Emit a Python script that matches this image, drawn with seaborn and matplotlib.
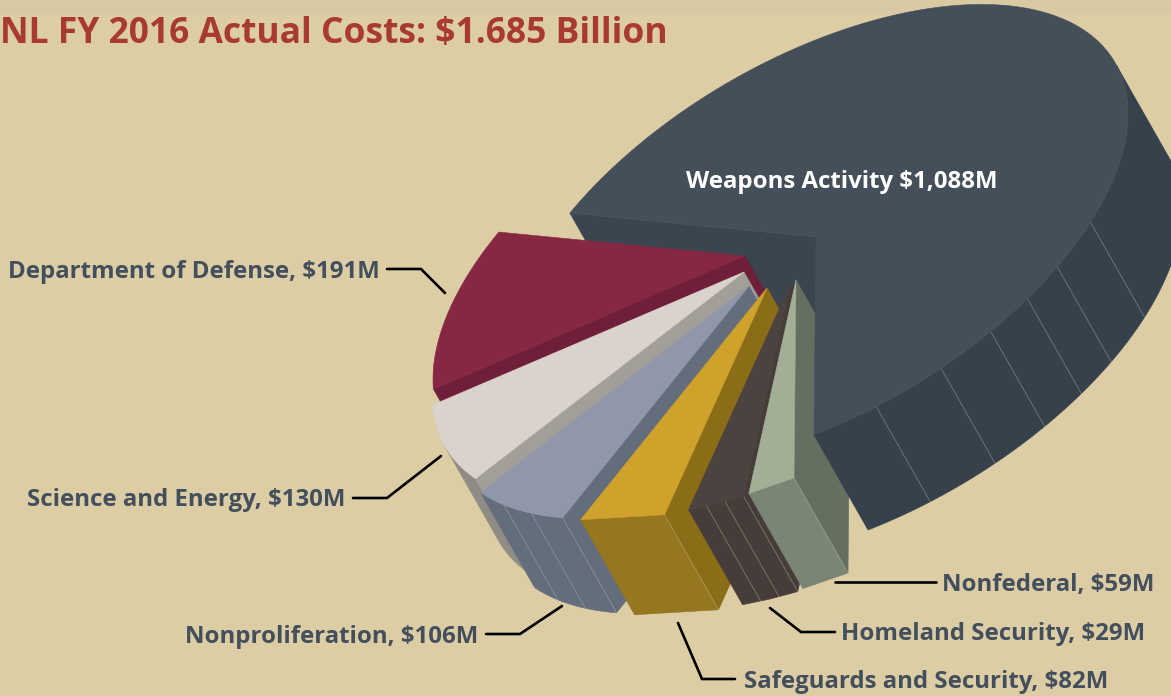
import numpy as np
import matplotlib
matplotlib.use('Agg')
import matplotlib.pyplot as plt
from matplotlib.patches import Polygon
import seaborn as sns

# values from the labels, $M
programs = ['Weapons Activity', 'Nonfederal', 'Homeland Security', 'Safeguards and Security',
            'Nonproliferation', 'Science and Energy', 'Department of Defense']
costs = [1088, 59, 29, 82, 106, 130, 191]
# slice sizes: the Nonfederal and Homeland wedges are not
# drawn in proportion to their printed labels, the other five are
drawn_sizes = [1088, 39, 49, 82, 106, 130, 191]

title_text = 'NL FY 2016 Actual Costs: $1.685 Billion'

top_colors = ['#444f5a', '#a3ae97', '#4c423f', '#cfa22c', '#9097ab', '#d9d2cd', '#862843']
wall_colors = ['#3a4550', '#646f5f', '#463d3b', '#8b6c17', '#646d7b', '#a29e98', '#6f1f3a']
rim_colors = ['#36414c', '#7b8573', '#463d3b', '#96761e', '#646d7b', '#8f8c85', '#6f1f3a']

BG = '#dccda5'
LABEL_COLOR = '#434f5c'
TITLE_COLOR = '#a83a32'
FONT = 'Open Sans'

# projection of the pie disc onto the page, in pixels
AXIS_A = np.array([-2.0, 198.0])
AXIS_B = np.array([-312.0, 122.0])
EXTRUDE = np.array([54.0, 95.0])

# where each slice's tip ends up after exploding
tips = [(816, 237), (796, 280), (791, 283), (767, 288), (749, 286), (744, 272), (745, 256)]
# rim facet lines per slice, and how many points the outer edge gets (small slices are straight)
facets = [6, 1, 3, 1, 3, 1, 1]
arc_steps = [240, 2, 3, 2, 120, 120, 120]


def disc(t):
    t = np.radians(t)
    return np.outer(np.cos(t), AXIS_A) + np.outer(np.sin(t), AXIS_B)


def facing(t):
    # keep only the part of the rim that faces the viewer
    r = np.radians(t)
    tang = np.outer(-np.sin(r), AXIS_A) + np.outer(np.cos(r), AXIS_B)
    cross = tang[:, 0] * EXTRUDE[1] - tang[:, 1] * EXTRUDE[0]
    return t[cross < 0]


sns.set_theme(style='white')
plt.rcParams['font.family'] = [FONT, 'DejaVu Sans']

fig, ax = plt.subplots(figsize=(11.71, 6.96), dpi=100)
fig.subplots_adjust(0, 0, 1, 1)
fig.patch.set_facecolor(BG)
ax.set_facecolor(BG)
ax.set_xlim(0, 1171)
ax.set_ylim(696, 0)
ax.axis('off')
ax.axhspan(0, 14, color='#d9caa3', lw=0, zorder=0)

# slice angles, the small slices run from 0 upward and weapons goes the other way
share = 360 * np.array(drawn_sizes, dtype=float) / sum(drawn_sizes)
starts = np.concatenate([[0], np.cumsum(share[1:])[:-1]])
spans = [(-share[0], 0.0)] + [(s, s + w) for s, w in zip(starts, share[1:])]


def draw_slice(i, z, cut=True):
    t0, t1 = spans[i]
    tip = np.array(tips[i], dtype=float)
    ts = np.linspace(t0, t1, arc_steps[i])
    arc = tip + disc(ts)
    if cut:
        # cut face on the low-angle edge
        a = tip + disc([t0])[0]
        ax.add_patch(Polygon([tip, a, a + EXTRUDE, tip + EXTRUDE], fc=wall_colors[i], ec=wall_colors[i],
                             lw=0.4, zorder=z))
    vis = facing(ts)
    if len(vis) > 1:
        r = tip + disc(vis)
        ax.add_patch(Polygon(np.vstack([r, (r + EXTRUDE)[::-1]]), fc=rim_colors[i], ec=rim_colors[i],
                             lw=0.4, zorder=z + 0.1))
        if i == 0:
            marks = -np.array([11.5, 24, 34.4, 43, 51, 62])
        else:
            marks = np.linspace(t0, t1, facets[i] + 1)[:-1]
        for m in marks:
            if vis.min() <= m <= vis.max():
                p = tip + disc([m])[0]
                ax.plot(*zip(p, p + EXTRUDE), color='#c9c3a8', lw=0.5, alpha=0.5, zorder=z + 0.2)
    ax.add_patch(Polygon(np.vstack([tip, arc]), fc=top_colors[i], ec=top_colors[i], lw=0.4, zorder=z + 0.3))


# weapons cut wall sits behind everything, its top and rim go over the small slices
tip0 = np.array(tips[0], dtype=float)
back = tip0 + disc([spans[0][0]])[0]
ax.add_patch(Polygon([tip0, back, back + EXTRUDE, tip0 + EXTRUDE], fc=wall_colors[0], ec=wall_colors[0],
                     lw=0.4, zorder=1))
for z, i in enumerate([6, 5, 4, 3, 2, 1]):
    draw_slice(i, 2 + z)
draw_slice(0, 10, cut=False)

# labels
ax.text(668, 34, title_text, ha='right', va='center', fontsize=25.5, fontweight='bold', color=TITLE_COLOR, zorder=20)
ax.text(842, 182, f'{programs[0]} ${costs[0]:,}M', ha='center', va='center', fontsize=17.25, fontweight='bold',
        color='white', zorder=20)

label_pos = [None, (1154, 585), (1145, 634), (1108, 682), (478, 637), (345, 500), (380, 272)]
leaders = [None,
           [(936, 582), (835, 582)],
           [(835, 632), (801, 632), (770, 608)],
           [(735, 679), (702, 679), (678, 623)],
           [(486, 634), (520, 634), (562, 606)],
           [(353, 498), (387, 498), (441, 456)],
           [(387, 269), (421, 269), (445, 293)]]
for i in range(1, len(programs)):
    x, y = label_pos[i]
    ax.text(x, y, f'{programs[i]}, ${costs[i]}M', ha='right', va='center', fontsize=17.25, fontweight='bold',
            color=LABEL_COLOR, zorder=20)
    ax.plot(*zip(*leaders[i]), color='black', lw=1.9, solid_joinstyle='miter', zorder=20)

fig.savefig('out.png', dpi=100, facecolor=BG)
